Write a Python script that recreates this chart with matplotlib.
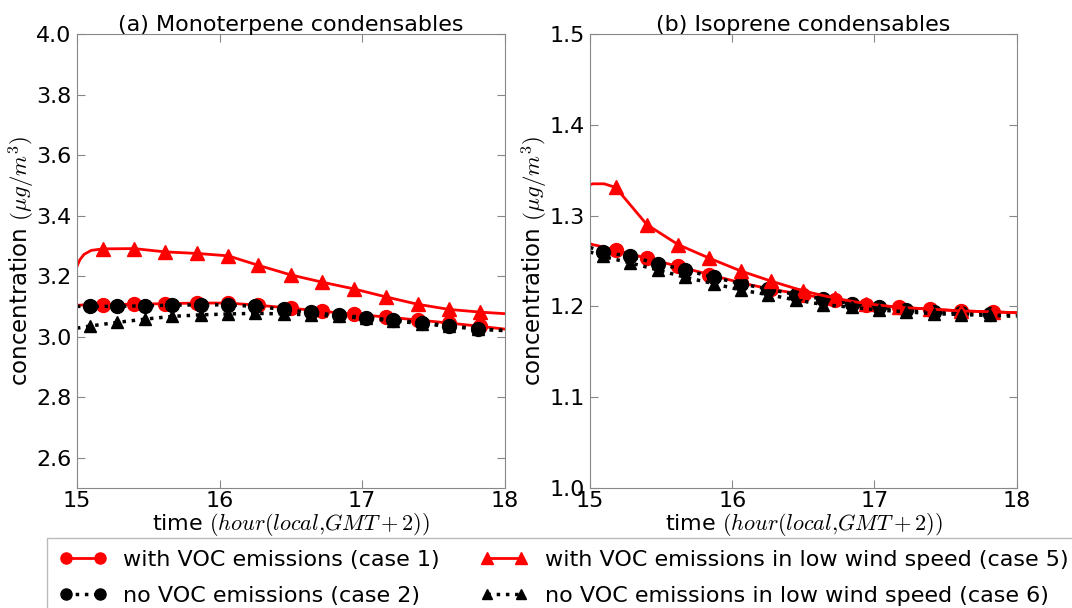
import matplotlib
matplotlib.use("Agg")
import matplotlib.pyplot as plt

plt.rcParams['font.family'] = ['DejaVu Sans']
plt.rcParams['mathtext.fontset'] = 'cm'

# times of the red series (first values are the curve start, rest carry markers)
t_red = [15.0, 15.02, 15.05, 15.1, 15.18, 15.40, 15.62, 15.84, 16.06, 16.27, 16.50,
         16.72, 16.94, 17.17, 17.39, 17.61, 17.83, 18.0]
# times of the black series
t_blk = [15.0, 15.09, 15.28, 15.48, 15.67, 15.87, 16.06, 16.25, 16.45, 16.64,
         16.84, 17.03, 17.22, 17.42, 17.61, 17.81, 18.0]

# (a) monoterpene condensables
mono_case1 = [3.104, 3.104, 3.105, 3.105, 3.106, 3.107, 3.109, 3.111, 3.111, 3.104,
              3.094, 3.084, 3.074, 3.065, 3.055, 3.045, 3.034, 3.025]
mono_case2 = [3.100, 3.100, 3.100, 3.102, 3.104, 3.105, 3.105, 3.100, 3.090, 3.080,
              3.071, 3.063, 3.055, 3.046, 3.036, 3.026, 3.020]
mono_case5 = [3.232, 3.254, 3.272, 3.285, 3.290, 3.291, 3.280, 3.275, 3.267, 3.236,
              3.204, 3.180, 3.158, 3.131, 3.107, 3.090, 3.081, 3.076]
mono_case6 = [3.028, 3.035, 3.047, 3.058, 3.067, 3.072, 3.075, 3.077, 3.075, 3.072,
              3.067, 3.060, 3.052, 3.043, 3.034, 3.025, 3.020]

# (b) isoprene condensables
iso_case1 = [1.269, 1.268, 1.267, 1.265, 1.262, 1.253, 1.244, 1.235, 1.226, 1.219,
             1.213, 1.207, 1.202, 1.199, 1.197, 1.195, 1.194, 1.193]
iso_case2 = [1.265, 1.260, 1.255, 1.247, 1.240, 1.232, 1.225, 1.219, 1.213, 1.208,
             1.203, 1.199, 1.196, 1.194, 1.193, 1.192, 1.191]
iso_case5 = [1.334, 1.335, 1.335, 1.335, 1.331, 1.290, 1.268, 1.253, 1.239, 1.228,
             1.217, 1.209, 1.203, 1.199, 1.197, 1.195, 1.194, 1.193]
iso_case6 = [1.260, 1.255, 1.248, 1.240, 1.232, 1.225, 1.218, 1.213, 1.207, 1.202,
             1.199, 1.196, 1.194, 1.192, 1.191, 1.190, 1.189]

labels = ['with VOC emissions (case 1)', 'no VOC emissions (case 2)',
          'with VOC emissions in low wind speed (case 5)',
          'no VOC emissions in low wind speed (case 6)']

fig = plt.figure(figsize=(10.72, 6.08), dpi=100)
ax1 = fig.add_axes([0.0718, 0.1974, 0.399, 0.7467])
ax2 = fig.add_axes([0.5504, 0.1974, 0.398, 0.7467])

red_every = list(range(4, len(t_red) - 1))
blk_every = list(range(1, len(t_blk) - 1))


def draw(ax, c1, c2, c5, c6):
    h1, = ax.plot(t_red, c1, color='red', lw=2, marker='o', ms=10, mec='red',
                  markevery=red_every)
    h2, = ax.plot(t_blk, c2, color='black', ls=':', lw=2.5, marker='o', ms=10,
                  markevery=blk_every)
    h5, = ax.plot(t_red, c5, color='red', lw=2, marker='^', ms=10, mec='red',
                  markevery=red_every)
    h6, = ax.plot(t_blk, c6, color='black', ls=':', lw=2.5, marker='^', ms=9,
                  markevery=blk_every)
    return [h1, h2, h5, h6]


handles = draw(ax1, mono_case1, mono_case2, mono_case5, mono_case6)
draw(ax2, iso_case1, iso_case2, iso_case5, iso_case6)

ax1.set_ylim(2.5, 4.0)
ax1.set_yticks([2.6, 2.8, 3.0, 3.2, 3.4, 3.6, 3.8, 4.0])
ax2.set_ylim(1.0, 1.5)
ax2.set_yticks([1.0, 1.1, 1.2, 1.3, 1.4, 1.5])

for ax, title in [(ax1, '(a) Monoterpene condensables'), (ax2, '(b) Isoprene condensables')]:
    ax.set_xlim(15, 18)
    ax.set_xticks([15, 16, 17, 18])
    ax.tick_params(direction='in', top=True, right=True, length=6, labelsize=16,
                   color='#888888')
    ax.tick_params(axis='x', pad=2)
    ax.tick_params(axis='y', pad=4)
    for s in ax.spines.values():
        s.set_color('#888888')
    ax.set_title(title, fontsize=16, pad=2)
    ax.set_xlabel(r'time $(hour(local{,}GMT+2))$', fontsize=16, labelpad=0)
    ax.set_ylabel(r'concentration $(\mu g/m^3)$', fontsize=16.5, labelpad=-1)

fig.legend(handles, labels, loc='upper left', bbox_to_anchor=(0.0436, 0.1151),
           ncol=2, fontsize=16, numpoints=2, markerscale=0.8, frameon=True,
           fancybox=False, edgecolor='#aaaaaa', borderaxespad=0, borderpad=0.55,
           columnspacing=1.85, handlelength=2.13, handletextpad=0.75,
           labelspacing=0.72)

fig.savefig('out.png', dpi=100)
